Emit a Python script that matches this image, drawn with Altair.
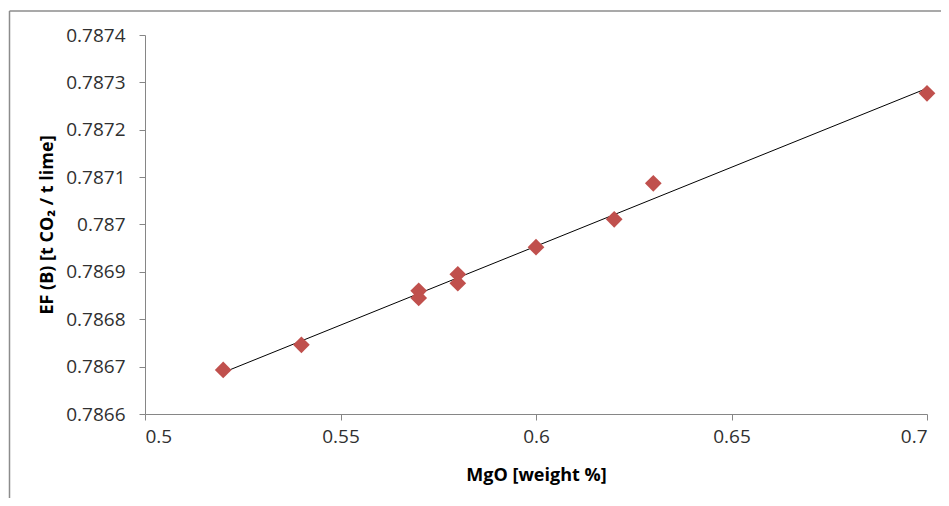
import altair as alt
import pandas as pd

mgo = [0.52, 0.54, 0.57, 0.57, 0.58, 0.58, 0.60, 0.62, 0.63, 0.70]
ef = [0.786693, 0.786746, 0.786860, 0.786845, 0.786895, 0.786876, 0.786952, 0.787011, 0.787087, 0.787277]

df = pd.DataFrame({"mgo": mgo, "ef": ef})

FONT = "Open Sans"
AX = "#868686"

x_enc = alt.X("mgo:Q", scale=alt.Scale(domain=[0.5, 0.7], nice=False, zero=False),
              axis=alt.Axis(title="MgO [weight %]", values=[0.5, 0.55, 0.6, 0.65, 0.7], format=".2~f",
                            grid=False, domainColor=AX, tickColor=AX, tickSize=6,
                            labelFont=FONT, labelFontSize=19, labelColor="#303030", labelPadding=7,
                            titleFont=FONT, titleFontSize=18, titleFontWeight="bold", titleColor="#000",
                            titlePadding=20))
y_enc = alt.Y("ef:Q", scale=alt.Scale(domain=[0.7866, 0.7874], nice=False, zero=False),
              axis=alt.Axis(title="EF (B) [t CO\u2082 / t lime]",
                            values=[0.7866, 0.7867, 0.7868, 0.7869, 0.787, 0.7871, 0.7872, 0.7873, 0.7874],
                            format=".4~f", grid=False, domainColor=AX, tickColor=AX, tickSize=6,
                            labelFont=FONT, labelFontSize=19, labelColor="#303030", labelPadding=14,
                            titleFont=FONT, titleFontSize=18, titleFontWeight="bold", titleColor="#000",
                            titlePadding=9))

base = alt.Chart(df)

points = base.mark_point(shape="diamond", filled=True, size=280, color="#C0504D", opacity=1).encode(
    x=x_enc, y=y_enc)

trend = base.transform_regression("mgo", "ef").mark_line(color="#000000", strokeWidth=1).encode(
    x="mgo:Q", y="ef:Q")

frame_left = alt.Chart(pd.DataFrame({"k": [0]})).mark_rule(color="#8c8c8c", strokeWidth=1.5).encode(
    x=alt.value(-135.5), y=alt.value(-24), y2=alt.value(500))
frame_top = alt.Chart(pd.DataFrame({"k": [0]})).mark_rule(color="#8c8c8c", strokeWidth=1.5).encode(
    x=alt.value(-135.5), x2=alt.value(800), y=alt.value(-24))

chart = alt.layer(frame_left, frame_top, trend, points).properties(
    width=782, height=379,
    autosize=alt.AutoSizeParams(type="none"),
    padding={"left": 137, "top": 27, "right": 14, "bottom": 84},
).configure_view(stroke=None)

chart.save("out.html", embed_options={"renderer": "svg", "actions": False})
